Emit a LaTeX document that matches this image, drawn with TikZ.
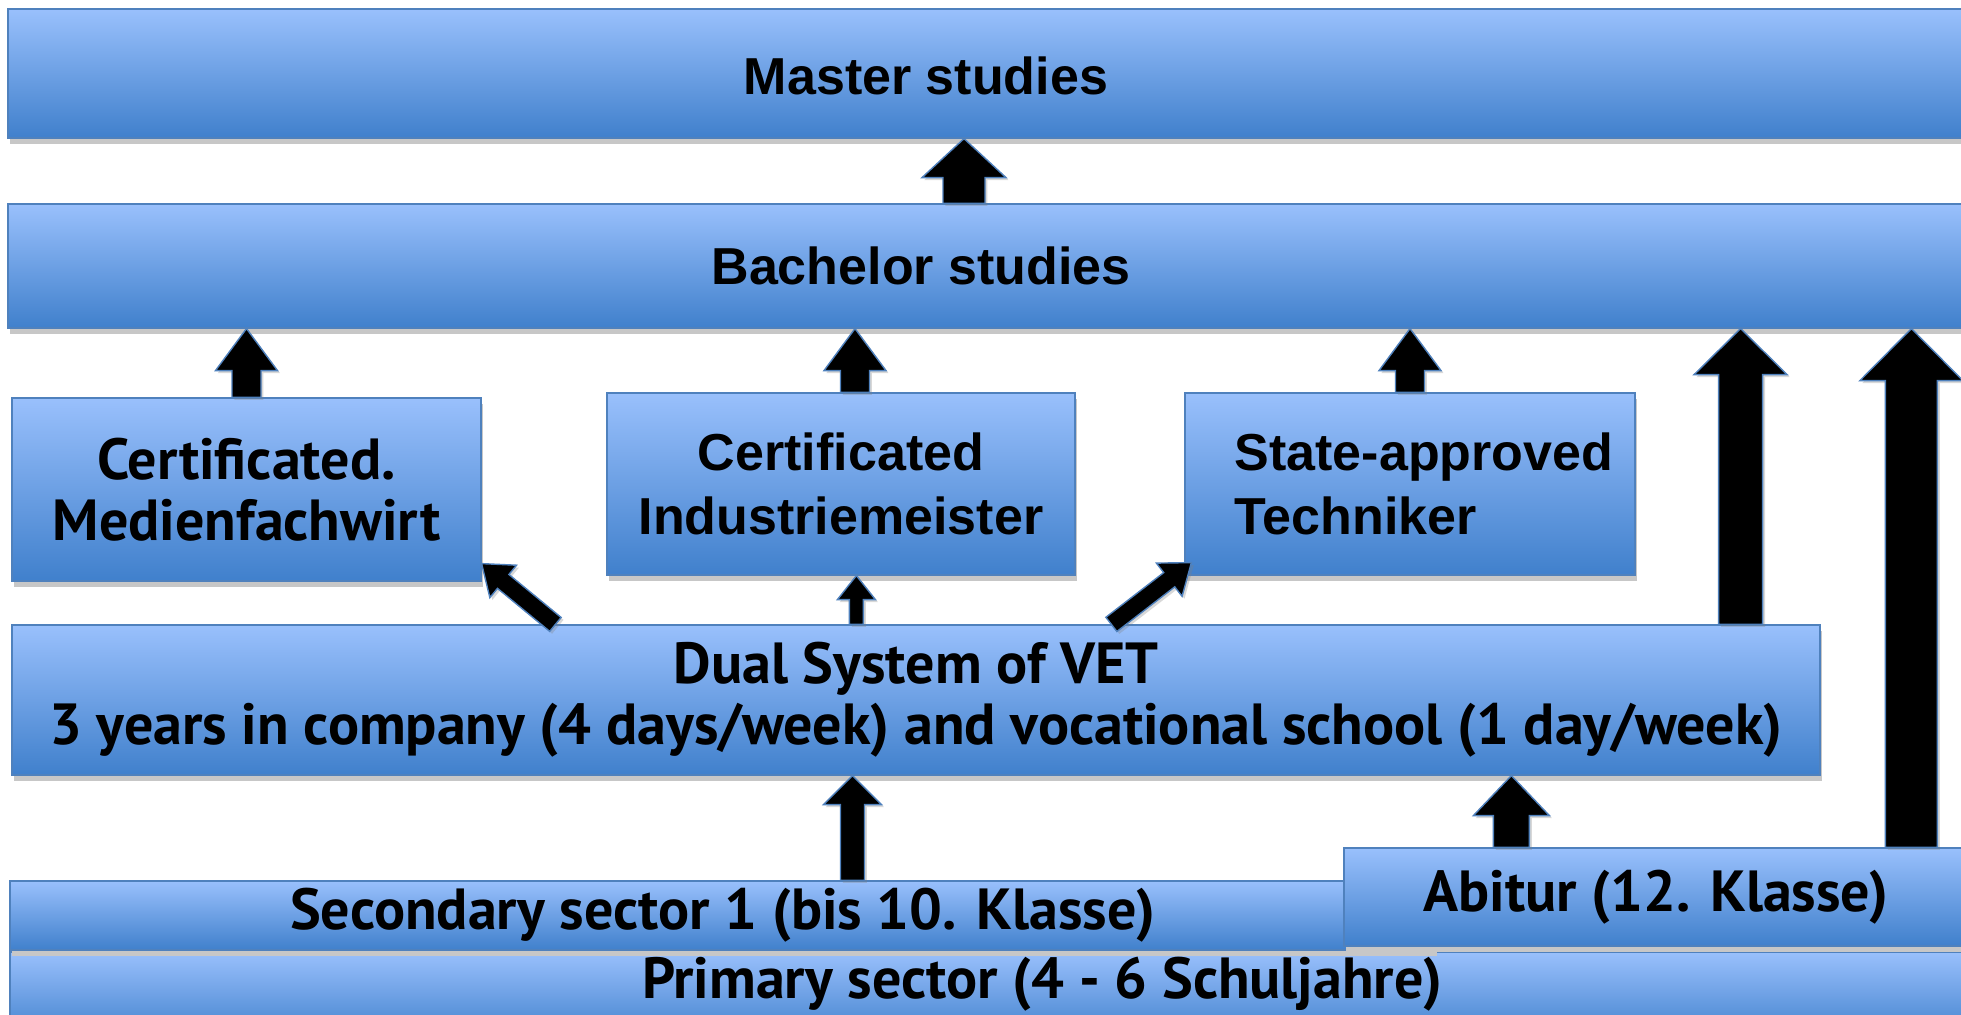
\documentclass[tikz,border=0pt]{standalone}
\usepackage{fontspec}
\newfontfamily\arialsans{Liberation Sans}
\newfontfamily\ptsans{PT Sans}
\usetikzlibrary{calc}
\usetikzlibrary{shadows}

\definecolor{boxtop}{RGB}{153,192,252}
\definecolor{boxbot}{RGB}{64,128,204}
\definecolor{boxline}{RGB}{79,129,189}

\tikzset{
  box/.style={rectangle, draw=boxline, line width=0.6pt, top color=boxtop, bottom color=boxbot,
    inner sep=0pt, align=center,
    drop shadow={shadow xshift=0.8pt, shadow yshift=-3pt, fill=black!22, opacity=1}},
  bandtext/.style={inner sep=0pt, font=\arialsans\bfseries\fontsize{26}{32}\selectfont},
  vettext/.style={font=\ptsans\bfseries\fontsize{29}{30.5}\selectfont},
  blockarr/.style={fill=black, draw=boxline, line width=0.7pt, line join=miter,
    drop shadow={opacity=0.3, shadow xshift=1.2pt, shadow yshift=-1.2pt}}
}

% block arrow: from, to, half shaft, half head, head length
\newcommand{\blockarrow}[5]{%
  \coordinate (ahb) at ($(#2)!#5!(#1)$);
  \filldraw[blockarr] ($(#1)!#3!90:(#2)$) -- ($(ahb)!#3!90:(#2)$) -- ($(ahb)!#4!90:(#2)$) -- (#2)
    -- ($(ahb)!#4!-90:(#2)$) -- ($(ahb)!#3!-90:(#2)$) -- ($(#1)!#3!-90:(#2)$) -- cycle;
}

\begin{document}
\begin{tikzpicture}[x=0.5pt, y=-0.5pt]
\clip (0,0) rectangle (1961,1014);
\fill[white] (0,0) rectangle (1961,1014);

% bands and boxes
\node[box, minimum width=1001pt, minimum height=64.5pt] (master) at (1009,73.5) {};
\node[bandtext] (mastertxt) at (926,76) {Master studies};
\node[box, minimum width=1001pt, minimum height=62pt] (bachelor) at (1009,266) {};
\node[bandtext] (bachelortxt) at (921,266) {Bachelor studies};

\node[box, vettext, minimum width=234.5pt, minimum height=91.5pt] (medien) at (246.5,489.5) {Certificated.\\Medienfachwirt};
\node[box, bandtext, minimum width=234pt, minimum height=91pt] (industrie) at (841,484) {Certificated\\Industriemeister};
\node[box, bandtext, align=left, minimum width=225pt, minimum height=91pt] (techniker) at (1410,484) {\hspace*{14pt}State-approved\\\hspace*{14pt}Techniker};

\node[box, vettext, minimum width=904pt, minimum height=75pt] (dual) at (916,700) {Dual System of VET\\3 years in company (4 days/week) and vocational school (1 day/week)};

\node[box, minimum width=1000pt, minimum height=44pt] (primary) at (1010,996) {};
\node[vettext] (primarytxt) at (1042,984) {Primary sector (4 - 6 Schuljahre)};
\node[box, vettext, minimum width=712.5pt, minimum height=34.5pt] (secondary) at (722.5,915.5) {Secondary sector 1 (bis 10. Klasse)};
\node[box, vettext, minimum width=312pt, minimum height=49pt] (abitur) at (1656,897) {Abitur (12. Klasse)};

% arrows
\coordinate (a1) at ($(bachelor.north)+(-45,0)$);
\blockarrow{a1}{a1 |- master.south}{10.5pt}{21pt}{19.5pt}
\blockarrow{medien.north}{medien.north |- bachelor.south}{7.25pt}{15.5pt}{21pt}
\coordinate (a3) at ($(industrie.north)+(14,0)$);
\blockarrow{a3}{a3 |- bachelor.south}{7.25pt}{15.5pt}{21pt}
\blockarrow{techniker.north}{techniker.north |- bachelor.south}{7.25pt}{15.5pt}{21pt}
\coordinate (a5) at ($(dual.north east)+(-80,0)$);
\blockarrow{a5}{a5 |- bachelor.south}{11pt}{23.25pt}{23pt}
\coordinate (a6) at ($(abitur.north west)+(568,0)$);
\blockarrow{a6}{a6 |- bachelor.south}{13pt}{25.75pt}{26pt}

\coordinate (a7) at ($(dual.north west)+(544,0)$);
\coordinate (t7) at ($(medien.south east)+(0,-18)$);
\blockarrow{a7}{t7}{4.5pt}{10.5pt}{14pt}
\coordinate (a8) at ($(dual.north west)+(1100,0)$);
\coordinate (t8) at ($(techniker.south west)+(7,-13)$);
\blockarrow{a8}{t8}{4.5pt}{10.5pt}{14pt}
\coordinate (a9) at ($(dual.north west)+(845,0)$);
\blockarrow{a9}{a9 |- industrie.south}{3.5pt}{9.5pt}{12pt}

\coordinate (a10) at ($(secondary.north)+(130,0)$);
\blockarrow{a10}{a10 |- dual.south}{6pt}{14.5pt}{14.5pt}
\coordinate (a11) at ($(abitur.north west)+(168,0)$);
\blockarrow{a11}{a11 |- dual.south}{9pt}{19pt}{20pt}
\end{tikzpicture}
\end{document}
